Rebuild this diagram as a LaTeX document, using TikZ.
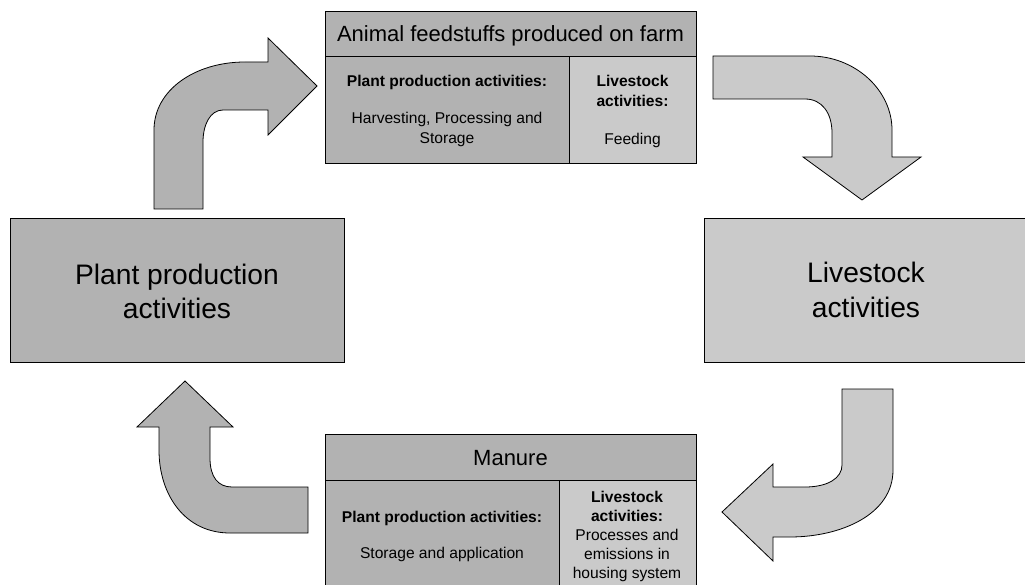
\documentclass[tikz,border=0pt]{standalone}
\usepackage{fontspec}
\setmainfont{Liberation Sans}
\definecolor{darkfill}{RGB}{178,178,178}
\definecolor{lightfill}{RGB}{202,202,202}
\tikzset{
  boxbase/.style={draw=black, line width=0.8pt, rectangle, inner sep=0pt, outer sep=0pt},
  darkbox/.style={boxbase, fill=darkfill},
  lightbox/.style={boxbase, fill=lightfill},
  bigtxt/.style={anchor=base, inner sep=0pt, font=\fontsize{28.2}{33}\selectfont},
  headtxt/.style={anchor=base, inner sep=0pt, font=\fontsize{22}{26}\selectfont},
  smalltxt/.style={anchor=base, inner sep=0pt, font=\fontsize{15.6}{19}\selectfont},
  boldtxt/.style={smalltxt, font=\fontsize{15.6}{19}\selectfont\bfseries},
  arrowdark/.style={draw=black, line width=0.8pt, fill=darkfill, line join=miter},
  arrowlight/.style={draw=black, line width=0.8pt, fill=lightfill, line join=miter}
}
\begin{document}
\begin{tikzpicture}[x=1pt, y=-1pt]
\useasboundingbox (0,0) rectangle (1025,585);
\clip (0,0) rectangle (1025,585);

% main boxes
\node[darkbox, minimum width=334pt, minimum height=144pt] (plant) at (177,290) {};
\node[lightbox, minimum width=322pt, minimum height=144pt] (live) at (865,290) {};
\node[bigtxt] (plantA) at (177,284) {Plant production};
\node[bigtxt] (plantB) at (177,318) {activities};
\node[bigtxt] (liveA) at (866,283) {Livestock};
\node[bigtxt] (liveB) at (866,317) {activities};

% top box
\node[darkbox, minimum width=371pt, minimum height=45pt] (feedhead) at (510.5,33.5) {};
\node[darkbox, minimum width=244pt, minimum height=107pt] (feedplant) at (447,109.5) {};
\node[lightbox, minimum width=127pt, minimum height=107pt] (feedlive) at (632.5,109.5) {};
\node[headtxt] (feedtitle) at (510.5,42) {Animal feedstuffs produced on farm};
\node[boldtxt] (fp1) at (447,87) {Plant production activities:};
\node[smalltxt] (fp2) at (447,124) {Harvesting, Processing and};
\node[smalltxt] (fp3) at (447,144) {Storage};
\node[boldtxt] (fl1) at (632.5,87) {Livestock};
\node[boldtxt] (fl2) at (632.5,107) {activities:};
\node[smalltxt] (fl3) at (632.5,145) {Feeding};

% bottom box
\node[darkbox, minimum width=371pt, minimum height=46pt] (manhead) at (510.5,457) {};
\node[darkbox, minimum width=234pt, minimum height=120pt] (manplant) at (442,540) {};
\node[lightbox, minimum width=137pt, minimum height=120pt] (manlive) at (627.5,540) {};
\node[headtxt] (mantitle) at (510.5,465) {Manure};
\node[boldtxt] (mp1) at (442,522) {Plant production activities:};
\node[smalltxt] (mp2) at (442,558) {Storage and application};
\node[boldtxt] (ml1) at (627,502) {Livestock};
\node[boldtxt] (ml2) at (627,521) {activities:};
\node[smalltxt] (ml3) at (627,540) {Processes and};
\node[smalltxt] (ml4) at (627,559) {emissions in};
\node[smalltxt] (ml5) at (627,578) {housing system};

% arrow: plant -> feedstuffs (top left)
\draw[arrowdark] (154,209) -- (154,130) .. controls (154,90) and (195,62) .. (245,62)
  -- (268,62) -- (268,38) -- (317,86) -- (268,135) -- (268,110) -- (223,110)
  .. controls (210,110) and (203,125) .. (203,142) -- (203,209) -- cycle;

% arrow: feedstuffs -> livestock (top right)
\draw[arrowlight] (713,56) -- (810,56) .. controls (855,56) and (892,90) .. (892,130)
  -- (892,157) -- (921,157) -- (862,200) -- (803,157) -- (832,157) -- (832,133)
  .. controls (832,113) and (822,99) .. (805,99) -- (713,99) -- cycle;

% arrow: livestock -> manure (bottom right)
\draw[arrowlight] (842,389) -- (893,389) -- (893,470) .. controls (893,515) and (840,537) .. (790,537)
  -- (773,537) -- (773,561) -- (722,512) -- (773,464) -- (773,487) -- (805,487)
  .. controls (828,487) and (842,478) .. (842,465) -- cycle;

% arrow: manure -> plant (bottom left)
\draw[arrowdark] (185,381) -- (233,427) -- (210,427) -- (210,458)
  .. controls (210,477) and (218,487) .. (232,487) -- (308,487) -- (308,533) -- (230,533)
  .. controls (185,533) and (159,495) .. (159,450) -- (159,427) -- (137,427) -- cycle;
\end{tikzpicture}
\end{document}
